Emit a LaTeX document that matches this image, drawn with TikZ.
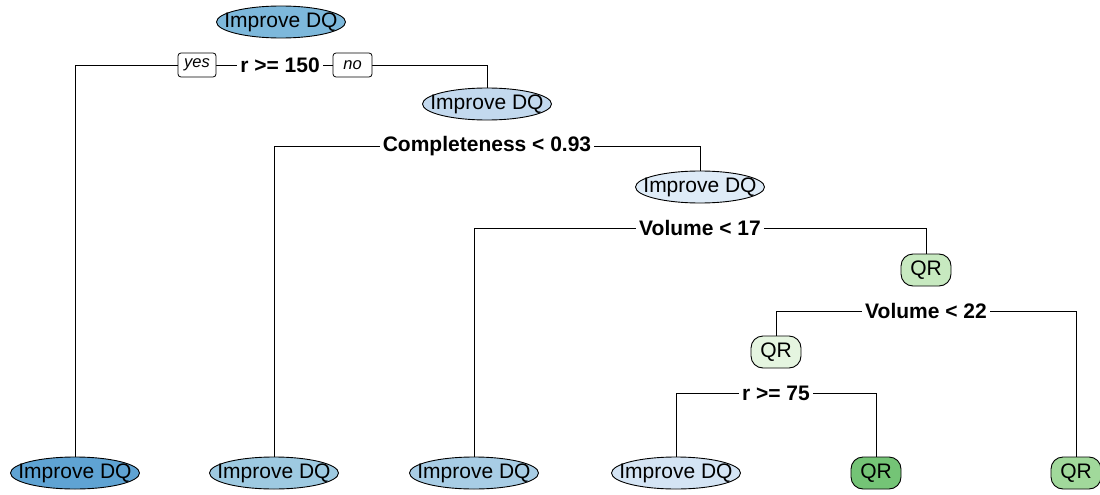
\documentclass[tikz,border=0pt]{standalone}
\usepackage{fontspec}
\setmainfont{Liberation Sans}
\usetikzlibrary{shapes.geometric,backgrounds}
\definecolor{cA}{HTML}{7DB8DB}
\definecolor{cL1}{HTML}{5FA3D3}
\definecolor{cL2}{HTML}{9ECAE1}
\definecolor{cL3}{HTML}{A8CDE5}
\definecolor{cL4}{HTML}{D4E4F4}
\definecolor{cN2}{HTML}{C3D9EE}
\definecolor{cN3}{HTML}{DEEBF7}
\definecolor{gA}{HTML}{C7E9C0}
\definecolor{gB}{HTML}{E5F5E0}
\definecolor{gC}{HTML}{74C476}
\definecolor{gD}{HTML}{A1D99B}
\tikzset{
  dq/.style={ellipse, draw=black, line width=0.9pt, inner xsep=-11pt, inner ysep=0pt, minimum height=32pt, font=\fontsize{21}{24}\selectfont},
  qr/.style={rectangle, rounded corners=12pt, draw=black, line width=0.9pt, inner sep=0pt, minimum width=50pt, minimum height=32pt, font=\fontsize{21}{24}\selectfont},
  split/.style={fill=white, inner sep=0pt, inner xsep=3pt, minimum height=20pt, font=\fontsize{21}{24}\selectfont\bfseries},
  yn/.style={rectangle, rounded corners=3pt, draw=black, line width=0.8pt, fill=white, inner sep=0pt, minimum height=24pt, font=\fontsize{16.5}{18}\selectfont\itshape},
  edge/.style={draw=black, line width=0.9pt}
}
\begin{document}
\begin{tikzpicture}[x=1pt,y=-1pt]
\useasboundingbox (0,0) rectangle (1100,495);
% inner nodes
\node[dq, fill=cA] (n1) at (281,22) {Improve DQ};
\node[dq, fill=cN2] (n2) at (487,104) {Improve DQ};
\node[dq, fill=cN3] (n3) at (700,187) {Improve DQ};
\node[qr, fill=gA] (n4) at (926,270) {QR};
\node[qr, fill=gB] (n5) at (776,352) {QR};
% leaves
\node[dq, fill=cL1] (l1) at (75,473) {Improve DQ};
\node[dq, fill=cL2] (l2) at (274,473) {Improve DQ};
\node[dq, fill=cL3] (l3) at (474,473) {Improve DQ};
\node[dq, fill=cL4] (l4) at (676,473) {Improve DQ};
\node[qr, fill=gC] (l5) at (876,473) {QR};
\node[qr, fill=gD] (l6) at (1076,473) {QR};
% split labels
\node[split] (s1) at (280,65) {r >= 150};
\node[split] (s2) at (487,146) {Completeness < 0.93};
\node[split] (s3) at (700,228) {Volume < 17};
\node[split] (s4) at (926,311) {Volume < 22};
\node[split] (s5) at (776,393) {r >= 75};
\node[yn, minimum width=38pt] (yes) at (197,65) {yes};
\node[yn, minimum width=39pt] (no) at (352.5,65) {no};
\begin{scope}[on background layer]
\draw[edge] (s1.west) -| (l1.north);
\draw[edge] (s1.east) -| (n2.north);
\draw[edge] (s2.west) -| (l2.north);
\draw[edge] (s2.east) -| (n3.north);
\draw[edge] (s3.west) -| (l3.north);
\draw[edge] (s3.east) -| (n4.north);
\draw[edge] (s4.west) -| (n5.north);
\draw[edge] (s4.east) -| (l6.north);
\draw[edge] (s5.west) -| (l4.north);
\draw[edge] (s5.east) -| (l5.north);
\end{scope}
\end{tikzpicture}
\end{document}
